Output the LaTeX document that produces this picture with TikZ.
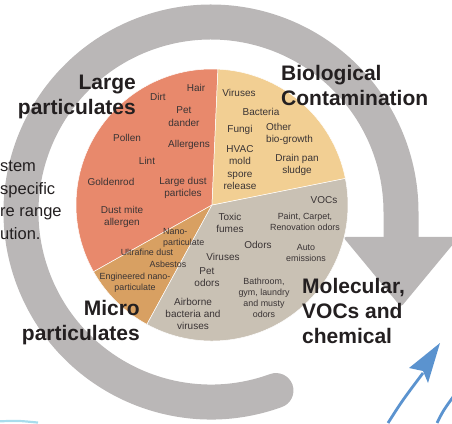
\documentclass[tikz,border=0pt]{standalone}
\usepackage{fontspec}
\setmainfont{Liberation Sans}
\definecolor{ringgray}{HTML}{BAB7B7}
\definecolor{largeor}{HTML}{E8896C}
\definecolor{bioyel}{HTML}{F2CF93}
\definecolor{microbr}{HTML}{D8A062}
\definecolor{molbeige}{HTML}{C9C1B4}
\definecolor{arrowblue}{HTML}{5B93CF}
\definecolor{paleblue}{HTML}{A8DCEC}
\definecolor{ink}{HTML}{231F20}
\definecolor{txt}{HTML}{3A3435}
\begin{document}
\begin{tikzpicture}[x=1pt,y=1pt,
  lbl/.style={font=\fontsize{10}{12.3}\selectfont,text=txt,align=center,inner sep=0pt},
  sm/.style={lbl,font=\fontsize{8.9}{11}\selectfont},
  cat/.style={font=\fontsize{21}{25}\selectfont\bfseries,text=ink,inner sep=0pt},
  slice/.style={draw=white,line width=.5pt}]
   \useasboundingbox (0,0) rectangle (452,423);
   % ring with arrow
   \draw[ringgray,line width=35,line cap=round] (211,211) ++(290:190)
     arc[start angle=290,end angle=0,radius=190] -- (401,186);
   \fill[ringgray,rounded corners=3] (343,186) -- (459,186) -- (401,116) -- cycle;
   % pie
   \coordinate (c) at (212,218);
   \fill[largeor,slice] (c) -- ++(87.5:136) arc[start angle=87.5,end angle=209.4,radius=136] -- cycle;
   \fill[microbr,slice] (c) -- ++(209.4:136) arc[start angle=209.4,end angle=241.4,radius=136] -- cycle;
   \fill[molbeige,slice] (c) -- ++(241.4:136) arc[start angle=241.4,end angle=371.3,radius=136] -- cycle;
   \fill[bioyel,slice] (c) -- ++(11.3:136) arc[start angle=11.3,end angle=87.5,radius=136] -- cycle;
   % large particulates
   \node[lbl] (hair) at (196,334.7) {Hair};
   \node[lbl] (dirt) at (158,325.7) {Dirt};
   \node[lbl] (dander) at (184,306.3) {Pet\\dander};
   \node[lbl] (pollen) at (127,284.7) {Pollen};
   \node[lbl] (allerg) at (189,277.7) {Allergens};
   \node[lbl] (lint) at (147,262.3) {Lint};
   \node[lbl] (golden) at (111,240.7) {Goldenrod};
   \node[lbl] (ldust) at (183,235.2) {Large dust\\particles};
   \node[lbl] (mite) at (122,206) {Dust mite\\allergen};
   % biological
   \node[lbl] (bvir) at (239,330.3) {Viruses};
   \node[lbl] (bact) at (261,310.7) {Bacteria};
   \node[lbl] (fungi) at (240,293) {Fungi};
   \node[lbl,align=left,anchor=west] (other) at (266,289) {Other\\bio-growth};
   \node[lbl] (hvac) at (240,255.3) {HVAC\\mold\\spore\\release};
   \node[lbl] (drain) at (297,258.3) {Drain pan\\sludge};
   % molecular
   \node[lbl] (vocs) at (324,223) {VOCs};
   \node[lbl] (toxic) at (230,200) {Toxic\\fumes};
   \node[sm] (paint) at (305,201) {Paint, Carpet,\\Renovation odors};
   \node[lbl] (odors) at (258,178) {Odors};
   \node[sm] (auto) at (306,170) {Auto\\emissions};
   \node[lbl] (mvir) at (223,165.7) {Viruses};
   \node[lbl] (petod) at (207,145.7) {Pet\\odors};
   \node[sm] (bath) at (264,125.5) {Bathroom,\\gym, laundry\\and musty\\odors};
   \node[lbl] (airb) at (193,109) {Airborne\\bacteria and\\viruses};
   % micro
   \node[sm,align=left,anchor=west] (nano) at (163,185.2) {Nano-\\particulate};
   \node[sm] (ultra) at (147,170.7) {Ultrafine dust};
   \node[sm] (asb) at (168,158.7) {Asbestos};
   \node[sm] (eng) at (135,140.2) {Engineered nano-\\particulate};
   % headings
   \node[cat,align=right,anchor=north east] (large) at (136,348) {Large\\particulates};
   \node[cat,align=left,anchor=north west] (bio) at (281,358) {Biological\\Contamination};
   \node[cat,align=right,anchor=north east] (micro) at (140,123) {Micro\\particulates};
   \node[cat,align=left,anchor=north west] (mol) at (302,145) {Molecular,\\VOCs and\\chemical};
   \node[font=\fontsize{16.5}{22.5}\selectfont,text=ink,align=left,anchor=north west,inner sep=0pt]
     (side) at (0,262) {stem\\specific\\re range\\ution.};
   % blue arrows
   \draw[arrowblue,line width=2.8] (388,0) .. controls (402,22) .. (423,50);
   \fill[arrowblue] (440,80) -- (409,55) -- (423,52) -- (428,40) -- cycle;
   \draw[arrowblue,line width=2.8] (437,0) .. controls (443,12) .. (453,26);
   \draw[paleblue,line width=2.2] (-2,1.6) .. controls (18,2.4) .. (38,0.4);
\end{tikzpicture}
\end{document}
